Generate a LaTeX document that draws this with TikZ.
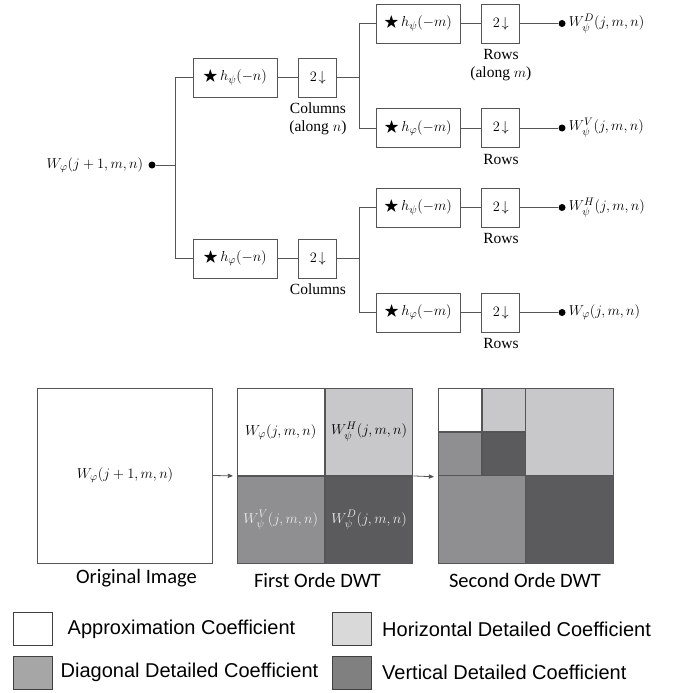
\documentclass[tikz,border=0pt]{standalone}
\usepackage{amsmath}
\usepackage{amssymb}
\usepackage{fontspec}
\setmainfont{Liberation Serif}
\newfontfamily\capfont{Carlito}
\newfontfamily\keyfont{Liberation Sans}
\usetikzlibrary{arrows,positioning}
\definecolor{linegray}{HTML}{555555}
\definecolor{hcoef}{HTML}{C8C8CA}
\definecolor{vcoef}{HTML}{8F8F92}
\definecolor{dcoef}{HTML}{5B5B5E}
\definecolor{keyh}{HTML}{D9D9D9}
\definecolor{keyd}{HTML}{A6A6A6}
\definecolor{keyv}{HTML}{808080}
\tikzset{
    %Define standard arrow tip
    >=stealth',
    %Define style for filter boxes
    filt/.style={
           rectangle,
           draw=linegray, line width=0.9pt,
           minimum width=84pt,
           minimum height=39pt,
           inner sep=0pt,
           text centered},
    down/.style={
           filt,
           minimum width=38pt},
    lbl/.style={
           inner sep=0pt,
           align=center,
           font=\fontsize{15.5}{18}\selectfont},
    dot/.style={
           circle,
           fill=black,
           inner sep=0pt,
           minimum size=7pt},
    % Define style for image squares
    sq/.style={
           rectangle,
           draw=linegray, line width=0.9pt,
           minimum size=175pt,
           inner sep=0pt},
    quad/.style={sq, minimum size=87.5pt},
    sub/.style={sq, minimum size=43.75pt},
    captext/.style={
           inner sep=0pt,
           font=\capfont\fontsize{20.5}{24}\selectfont},
    keybox/.style={
           rectangle,
           draw=black!75, line width=1pt,
           minimum width=39pt,
           minimum height=33pt,
           inner sep=0pt},
    keytext/.style={
           inner sep=0pt,
           font=\keyfont\fontsize{20}{24}\selectfont},
    % Define connector style
    wire/.style={
           draw=linegray,
           line width=0.8pt}
}

\begin{document}
\begin{tikzpicture}[x=1pt,y=-1pt,font=\fontsize{15.5}{18}\selectfont]
\useasboundingbox (0,0) rectangle (681,693);
 %input
\node[dot] (indot) at (152,165) {};
\node[inner sep=0pt, left=5pt of indot] (win) {$W_\varphi(j+1,m,n)$};
 %first stage (columns)
\node[filt] (f1) at (235,77.5) {$\bigstar\, h_\psi(-n)$};
\node[filt] (f2) at (235,258.5) {$\bigstar\, h_\varphi(-n)$};
\node[down, right=21pt of f1] (d1) {$2\!\downarrow$};
\node[down, right=21pt of f2] (d2) {$2\!\downarrow$};
\node[lbl, below=5pt of d1] (c1) {Columns\\(along $n$)};
\node[lbl, below=5pt of d2] (c2) {Columns};
 %second stage (rows)
\node[filt] (g1) at (418,23.5) {$\bigstar\, h_\psi(-m)$};
\node[filt] (g2) at (418,128) {$\bigstar\, h_\varphi(-m)$};
\node[filt] (g3) at (418,207.5) {$\bigstar\, h_\psi(-m)$};
\node[filt] (g4) at (418,312.5) {$\bigstar\, h_\varphi(-m)$};
\node[down, right=21pt of g1] (e1) {$2\!\downarrow$};
\node[down, right=21pt of g2] (e2) {$2\!\downarrow$};
\node[down, right=21pt of g3] (e3) {$2\!\downarrow$};
\node[down, right=21pt of g4] (e4) {$2\!\downarrow$};
\node[lbl, below=6pt of e1] (r1) {Rows\\(along $m$)};
\node[lbl, below=6pt of e2] (r2) {Rows};
\node[lbl, below=6pt of e3] (r3) {Rows};
\node[lbl, below=6pt of e4] (r4) {Rows};
 %outputs
\node[dot, right=38pt of e1] (o1) {};
\node[dot, right=38pt of e2] (o2) {};
\node[dot, right=38pt of e3] (o3) {};
\node[dot, right=38pt of e4] (o4) {};
\node[inner sep=0pt, right=3pt of o1] (w1) {$W_\psi^D(j,m,n)$};
\node[inner sep=0pt, right=3pt of o2] (w2) {$W_\psi^V(j,m,n)$};
\node[inner sep=0pt, right=3pt of o3] (w3) {$W_\psi^H(j,m,n)$};
\node[inner sep=0pt, right=3pt of o4] (w4) {$W_\varphi(j,m,n)$};
 %wires
\draw[wire] (indot) -- ++(23,0) coordinate (b1);
\draw[wire] (b1) |- (f1.west);
\draw[wire] (b1) |- (f2.west);
\draw[wire] (f1) -- (d1);
\draw[wire] (f2) -- (d2);
\draw[wire] (d1.east) -- ++(22,0) coordinate (b2);
\draw[wire] (d2.east) -- ++(22,0) coordinate (b3);
\draw[wire] (b2) |- (g1.west);
\draw[wire] (b2) |- (g2.west);
\draw[wire] (b3) |- (g3.west);
\draw[wire] (b3) |- (g4.west);
\foreach \i in {1,...,4}{
  \draw[wire] (g\i) -- (e\i);
  \draw[wire] (e\i) -- (o\i);
}
 %original image
\node[sq, fill=white] (orig) at (125,475.5) {$W_\varphi(j+1,m,n)$};
 %first order DWT
\node[quad, fill=white] (fa) at (280.75,431.75) {$W_\varphi(j,m,n)$};
\node[quad, fill=hcoef, right=0pt of fa] (fh) {$W_\psi^H(j,m,n)$};
\node[quad, fill=vcoef, text=white!92!black, below=0pt of fa] (fv) {$W_\psi^V(j,m,n)$};
\node[quad, fill=dcoef, text=white!92!black, right=0pt of fv] (fd) {$W_\psi^D(j,m,n)$};
 %second order DWT
\node[sub, fill=white] (sa) at (459.875,409.875) {};
\node[sub, fill=hcoef, right=0pt of sa] (sh) {};
\node[sub, fill=vcoef, below=0pt of sa] (sv) {};
\node[sub, fill=dcoef, right=0pt of sv] (sd) {};
\node[quad, fill=hcoef] (th) at (569.25,431.75) {};
\node[quad, fill=vcoef] (tv) at (481.75,519.25) {};
\node[quad, fill=dcoef] (td) at (569.25,519.25) {};
\draw[wire, ->] (orig.east) -- (fa.south west) [shorten >=4pt];
\draw[wire, ->] (fh.south east) -- (sv.south west) [shorten >=4pt];
 %captions
\node[captext] (capo) at (136.5,578) {Original Image};
\node[captext] (capf) at (317.5,580) {First Orde DWT};
\node[captext] (caps) at (525,580) {Second Orde DWT};
 %legend
\node[keybox, fill=white] (ka) at (32.5,629) {};
\node[keybox, fill=keyd] (kd) at (32.5,672.5) {};
\node[keybox, fill=keyh] (kh) at (352,629) {};
\node[keybox, fill=keyv] (kv) at (352,672.5) {};
\node[keytext, right=15pt of ka] (ta) {Approximation Coefficient};
\node[keytext, right=8pt of kd] (td2) {Diagonal Detailed Coefficient};
\node[keytext, right=10pt of kh] (th2) {Horizontal Detailed Coefficient};
\node[keytext, right=10pt of kv] (tv2) {Vertical Detailed Coefficient};
\end{tikzpicture}
\end{document}
